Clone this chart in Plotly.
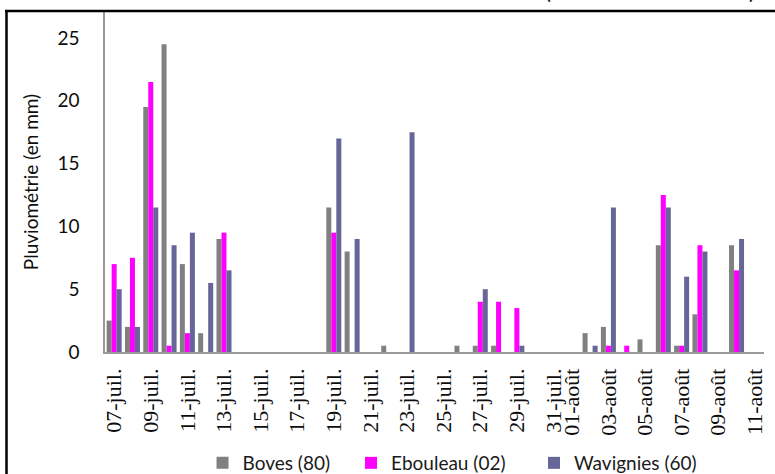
import plotly.graph_objects as go

# Daily rainfall, 07 July to 11 August
days = (
    [f"{d:02d}-juil." for d in range(7, 32)]
    + [f"{d:02d}-août" for d in range(1, 12)]
)

boves = [2.5, 2, 19.5, 24.5, 7, 1.5, 9, 0, 0, 0, 0, 0,
         11.5, 8, 0, 0.5, 0, 0, 0, 0.5, 0.5, 0.5, 0, 0,
         0, 0, 1.5, 2, 0, 1, 8.5, 0.5, 3, 0, 8.5, 0]
ebouleau = [7, 7.5, 21.5, 0.5, 1.5, 0, 9.5, 0, 0, 0, 0, 0,
            9.5, 0, 0, 0, 0, 0, 0, 0, 4, 4, 3.5, 0,
            0, 0, 0, 0.5, 0.5, 0, 12.5, 0.5, 8.5, 0, 6.5, 0]
wavignies = [5, 2, 11.5, 8.5, 9.5, 5.5, 6.5, 0, 0, 0, 0, 0,
             17, 9, 0, 0, 17.5, 0, 0, 0, 5, 0, 0.5, 0,
             0, 0, 0.5, 11.5, 0, 0, 11.5, 6, 8, 0, 9, 0]

tick_labels = [
    "07-juil.", "09-juil.", "11-juil.", "13-juil.", "15-juil.", "17-juil.",
    "19-juil.", "21-juil.", "23-juil.", "25-juil.", "27-juil.", "29-juil.",
    "31-juil.", "01-août", "03-août", "05-août", "07-août", "09-août", "11-août",
]
y_ticks = [0, 5, 10, 15, 20, 25]

series = [
    ("Boves (80)", boves, "#808080", "legend", 0.148),
    ("Ebouleau (02)", ebouleau, "#FF00FF", "legend2", 0.3733),
    ("Wavignies (60)", wavignies, "#666699", "legend3", 0.651),
]

W, H = 775, 474
L, R, T, B = 105, 11, 12, 122
plot_h = H - T - B

fig = go.Figure()
for name, vals, color, leg, _ in series:
    fig.add_trace(go.Bar(x=days, y=vals, name=name, marker_color=color,
                         marker_line_width=0, legend=leg))

sans = "Lato, Open Sans, sans-serif"
legend_y = (352 - 463) / plot_h
legend_common = dict(orientation="h", yanchor="middle", y=legend_y, xanchor="left",
                     font=dict(family=sans, size=19, color="#1a1a1a"),
                     bgcolor="rgba(0,0,0,0)", borderwidth=0)
layout_legends = {}
for name, vals, color, leg, lx in series:
    layout_legends[leg] = dict(x=lx, **legend_common)

fig.update_layout(
    width=W, height=H,
    margin=dict(l=L, r=R, t=T, b=B, autoexpand=False),
    paper_bgcolor="white", plot_bgcolor="white",
    barmode="group", bargap=0.18, bargroupgap=0,
    showlegend=True,
    **layout_legends,
    xaxis=dict(
        type="category", categoryorder="array", categoryarray=days,
        tickmode="array", tickvals=tick_labels, ticktext=tick_labels,
        tickangle=-90, showline=True, linecolor="#9a9a9a", linewidth=1.5,
        showgrid=False, ticks="", zeroline=False, automargin=False,
        ticklabelstandoff=6,
        tickfont=dict(family="Liberation Serif, serif", size=22, color="#0d0d0d"),
    ),
    yaxis=dict(
        range=[0, (352 - T) / 12.56], tickvals=y_ticks, ticktext=[str(v) for v in y_ticks],
        showline=True, linecolor="#9a9a9a", linewidth=1.5, showgrid=False,
        ticks="", zeroline=False, ticklabelstandoff=20, automargin=False,
        tickfont=dict(family=sans, size=19, color="#0d0d0d"),
        title=dict(text="Pluviométrie (en mm)", standoff=14,
                   font=dict(family=sans, size=19, color="#0d0d0d")),
    ),
)

# Frame around the chart (left and top edges)
def px_x(px):
    return (px - L) / (W - L - R)

def px_y(py):
    return (H - B - py) / plot_h

frame = dict(color="black", width=2.5)
fig.add_shape(type="line", xref="paper", yref="paper",
              x0=px_x(6.5), x1=px_x(6.5), y0=px_y(11), y1=px_y(480), line=frame)
fig.add_shape(type="line", xref="paper", yref="paper",
              x0=px_x(5), x1=px_x(790), y0=px_y(11), y1=px_y(11), line=frame)

# Title brackets at the top edge
for ch, cx in (("(", 548), (")", 752)):
    fig.add_annotation(text=ch, xref="paper", yref="paper", x=px_x(cx), y=px_y(6),
                       xanchor="center", yanchor="bottom", showarrow=False,
                       font=dict(family=sans, size=22, color="#111111"))

fig.write_html("out.html")
